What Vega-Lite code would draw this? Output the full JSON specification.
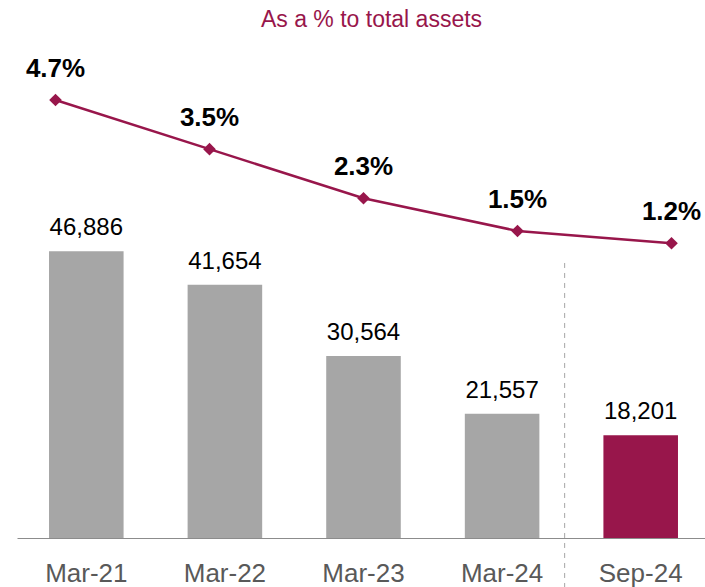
{
  "$schema": "https://vega.github.io/schema/vega-lite/v6.json",
  "autosize": "none",
  "width": 693,
  "height": 498,
  "padding": {"left": 17, "top": 40, "right": 0, "bottom": 49},
  "background": "white",
  "config": {"view": {"stroke": null}, "font": "Liberation Sans"},
  "title": {"text": "As a % to total assets", "color": "#98164B", "fontSize": 23, "font": "Liberation Sans", "fontWeight": "normal", "anchor": "middle", "dx": 8, "offset": -10, "baseline": "alphabetic"},
  "data": {"values": [
    {"period": "Mar-21", "amount": 46886, "ratio": 0.047},
    {"period": "Mar-22", "amount": 41654, "ratio": 0.035},
    {"period": "Mar-23", "amount": 30564, "ratio": 0.023},
    {"period": "Mar-24", "amount": 21557, "ratio": 0.015},
    {"period": "Sep-24", "amount": 18201, "ratio": 0.012}
  ]},
  "layer": [
    {
      "encoding": {
        "x": {"field": "period", "type": "nominal", "sort": null,
          "scale": {"type": "band", "paddingInner": 0.462, "paddingOuter": 0.231},
          "axis": {"title": null, "labelAngle": 0, "labelFontSize": 26, "labelFont": "Liberation Sans", "labelColor": "#595959", "labelPadding": 22, "ticks": false, "domainColor": "#8C8C8C", "domainWidth": 1, "grid": false, "zindex": 1}}
      },
      "layer": [
        {"mark": {"type": "bar"},
         "encoding": {
           "y": {"field": "amount", "type": "quantitative", "scale": {"domain": [2183, 79825], "zero": false, "nice": false}, "axis": null},
           "y2": {"datum": 2183},
           "color": {"condition": {"test": "datum.period === 'Sep-24'", "value": "#98164B"}, "value": "#A6A6A6"}
         }},
        {"mark": {"type": "text", "dy": -16, "baseline": "alphabetic", "fontSize": 24, "font": "Liberation Sans", "color": "#000000"},
         "encoding": {
           "y": {"field": "amount", "type": "quantitative"},
           "text": {"field": "amount", "type": "quantitative", "format": ","}
         }},
        {"data": {"values": [{}]},
         "mark": {"type": "rule", "strokeDash": [5, 5], "color": "#A6A6A6", "strokeWidth": 1, "clip": false},
         "encoding": {
           "x": {"datum": "Sep-24", "bandPosition": -0.52},
           "y": {"datum": 45058},
           "y2": {"datum": -5457}
         }}
      ]
    },
    {
      "encoding": {
        "x": {"field": "period", "type": "nominal", "sort": null, "scale": {"type": "point", "padding": 0.25}, "axis": null},
        "y": {"field": "ratio", "type": "quantitative", "scale": {"domain": [-0.06, 0.06166], "zero": false, "nice": false}, "axis": null}
      },
      "layer": [
        {"mark": {"type": "line", "color": "#98164B", "strokeWidth": 2.5}},
        {"mark": {"type": "point", "shape": "diamond", "filled": true, "size": 160, "color": "#98164B", "opacity": 1}},
        {"mark": {"type": "text", "dy": -23, "baseline": "alphabetic", "fontSize": 26, "fontWeight": "bold", "font": "Liberation Sans", "color": "#000000"},
         "encoding": {"text": {"field": "ratio", "type": "quantitative", "format": ".1%"}}}
      ]
    }
  ],
  "resolve": {"scale": {"x": "independent", "y": "independent"}, "axis": {"x": "independent"}}
}
